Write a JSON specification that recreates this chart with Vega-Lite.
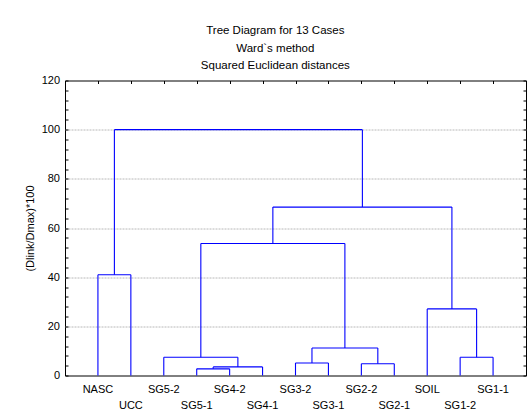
{
  "$schema": "https://vega.github.io/schema/vega-lite/v6.json",
  "width": 461,
  "height": 295,
  "autosize": {"type": "none"},
  "padding": {"left": 65, "top": 80.5, "right": 1, "bottom": 42.5},
  "background": "white",
  "config": {
    "font": "Liberation Sans",
    "view": {"stroke": "#000000", "strokeWidth": 1},
    "axis": {"labelColor": "#000", "titleColor": "#000", "tickColor": "#000", "domain": false, "labelFont": "Liberation Sans", "titleFont": "Liberation Sans"}
  },
  "title": {
    "text": ["Tree Diagram for 13 Cases", "Ward`s method", "Squared Euclidean distances"],
    "fontSize": 11.5,
    "fontWeight": "normal",
    "font": "Liberation Sans",
    "color": "#000",
    "lineHeight": 17.7,
    "baseline": "alphabetic",
    "offset": -6.5,
    "anchor": "middle",
    "frame": "bounds"
  },
  "datasets": {
    "links": [
      {"node": "A", "xl": 1, "xr": 2, "hl": 0, "hr": 0, "h": 41.0},
      {"node": "B", "xl": 4, "xr": 5, "hl": 0, "hr": 0, "h": 2.7},
      {"node": "C", "xl": 4.5, "xr": 6, "hl": 2.7, "hr": 0, "h": 3.5},
      {"node": "D", "xl": 3, "xr": 5.25, "hl": 0, "hr": 3.5, "h": 7.4},
      {"node": "E", "xl": 7, "xr": 8, "hl": 0, "hr": 0, "h": 5.1},
      {"node": "F", "xl": 9, "xr": 10, "hl": 0, "hr": 0, "h": 4.75},
      {"node": "G", "xl": 7.5, "xr": 9.5, "hl": 5.1, "hr": 4.75, "h": 11.2},
      {"node": "H", "xl": 4.125, "xr": 8.5, "hl": 7.4, "hr": 11.2, "h": 53.7},
      {"node": "I", "xl": 12, "xr": 13, "hl": 0, "hr": 0, "h": 7.4},
      {"node": "J", "xl": 11, "xr": 12.5, "hl": 0, "hr": 7.4, "h": 27.1},
      {"node": "K", "xl": 6.3125, "xr": 11.75, "hl": 53.7, "hr": 27.1, "h": 68.5},
      {"node": "L", "xl": 1.5, "xr": 9.03125, "hl": 41.0, "hr": 68.5, "h": 100}
    ],
    "leaves": [
      {"leaf": 1, "name": "NASC", "row": 1},
      {"leaf": 2, "name": "UCC", "row": 2},
      {"leaf": 3, "name": "SG5-2", "row": 1},
      {"leaf": 4, "name": "SG5-1", "row": 2},
      {"leaf": 5, "name": "SG4-2", "row": 1},
      {"leaf": 6, "name": "SG4-1", "row": 2},
      {"leaf": 7, "name": "SG3-2", "row": 1},
      {"leaf": 8, "name": "SG3-1", "row": 2},
      {"leaf": 9, "name": "SG2-2", "row": 1},
      {"leaf": 10, "name": "SG2-1", "row": 2},
      {"leaf": 11, "name": "SOIL", "row": 1},
      {"leaf": 12, "name": "SG1-2", "row": 2},
      {"leaf": 13, "name": "SG1-1", "row": 1}
    ]
  },
  "layer": [
    {
      "data": {"name": "links"},
      "mark": {"type": "rule", "color": "#0000ff", "strokeWidth": 1.1},
      "encoding": {
        "x": {"field": "xl", "type": "quantitative", "scale": {"domain": [0, 14], "nice": false, "zero": false},
          "axis": {"orient": "top", "values": [1,2,3,4,5,6,7,8,9,10,11,12,13], "labels": false, "tickSize": -3, "grid": false, "title": null}},
        "x2": {"field": "xr"},
        "y": {"field": "h", "type": "quantitative", "scale": {"domain": [0, 120], "nice": false},
          "axis": {"orient": "left", "values": [0,4,8,12,16,20,24,28,32,36,40,44,48,52,56,60,64,68,72,76,80,84,88,92,96,100,104,108,112,116,120],
            "labelExpr": "datum.value % 20 === 0 ? datum.label : ''", "labelOverlap": false, "labelFlush": false,
            "tickSize": -3, "labelPadding": 8.5, "labelFontSize": 11, "grid": false,
            "title": "(Dlink/Dmax)*100", "titleFontSize": 11, "titleFontWeight": "normal", "titlePadding": 6}}
      }
    },
    {
      "data": {"name": "links"},
      "mark": {"type": "rule", "color": "#0000ff", "strokeWidth": 1.1},
      "encoding": {
        "x": {"field": "xl", "type": "quantitative", "axis": null},
        "y": {"field": "hl", "type": "quantitative",
          "axis": {"orient": "left", "values": [20, 40, 60, 80, 100], "labels": false, "ticks": false, "grid": true,
            "gridColor": "#b8b8b8", "gridDash": [2, 1], "gridWidth": 1, "title": null}},
        "y2": {"field": "h"}
      }
    },
    {
      "data": {"name": "links"},
      "mark": {"type": "rule", "color": "#0000ff", "strokeWidth": 1.1},
      "encoding": {
        "x": {"field": "xr", "type": "quantitative", "axis": null},
        "y": {"field": "hr", "type": "quantitative",
          "axis": {"orient": "right", "values": [0,4,8,12,16,20,24,28,32,36,40,44,48,52,56,60,64,68,72,76,80,84,88,92,96,100,104,108,112,116,120],
            "labels": false, "tickSize": -3, "grid": false, "title": null}},
        "y2": {"field": "h"}
      }
    },
    {
      "data": {"name": "leaves"},
      "transform": [{"filter": "datum.row === 1"}],
      "mark": {"type": "text", "fontSize": 11, "font": "Liberation Sans", "color": "#000", "baseline": "top", "align": "center", "dy": 8},
      "encoding": {
        "x": {"field": "leaf", "type": "quantitative", "axis": null},
        "y": {"datum": 0, "type": "quantitative", "axis": null},
        "text": {"field": "name"}
      }
    },
    {
      "data": {"name": "leaves"},
      "transform": [{"filter": "datum.row === 2"}],
      "mark": {"type": "text", "fontSize": 11, "font": "Liberation Sans", "color": "#000", "baseline": "top", "align": "center", "dy": 24},
      "encoding": {
        "x": {"field": "leaf", "type": "quantitative", "axis": null},
        "y": {"datum": 0, "type": "quantitative", "axis": null},
        "text": {"field": "name"}
      }
    }
  ],
  "resolve": {"axis": {"x": "independent", "y": "independent"}}
}
